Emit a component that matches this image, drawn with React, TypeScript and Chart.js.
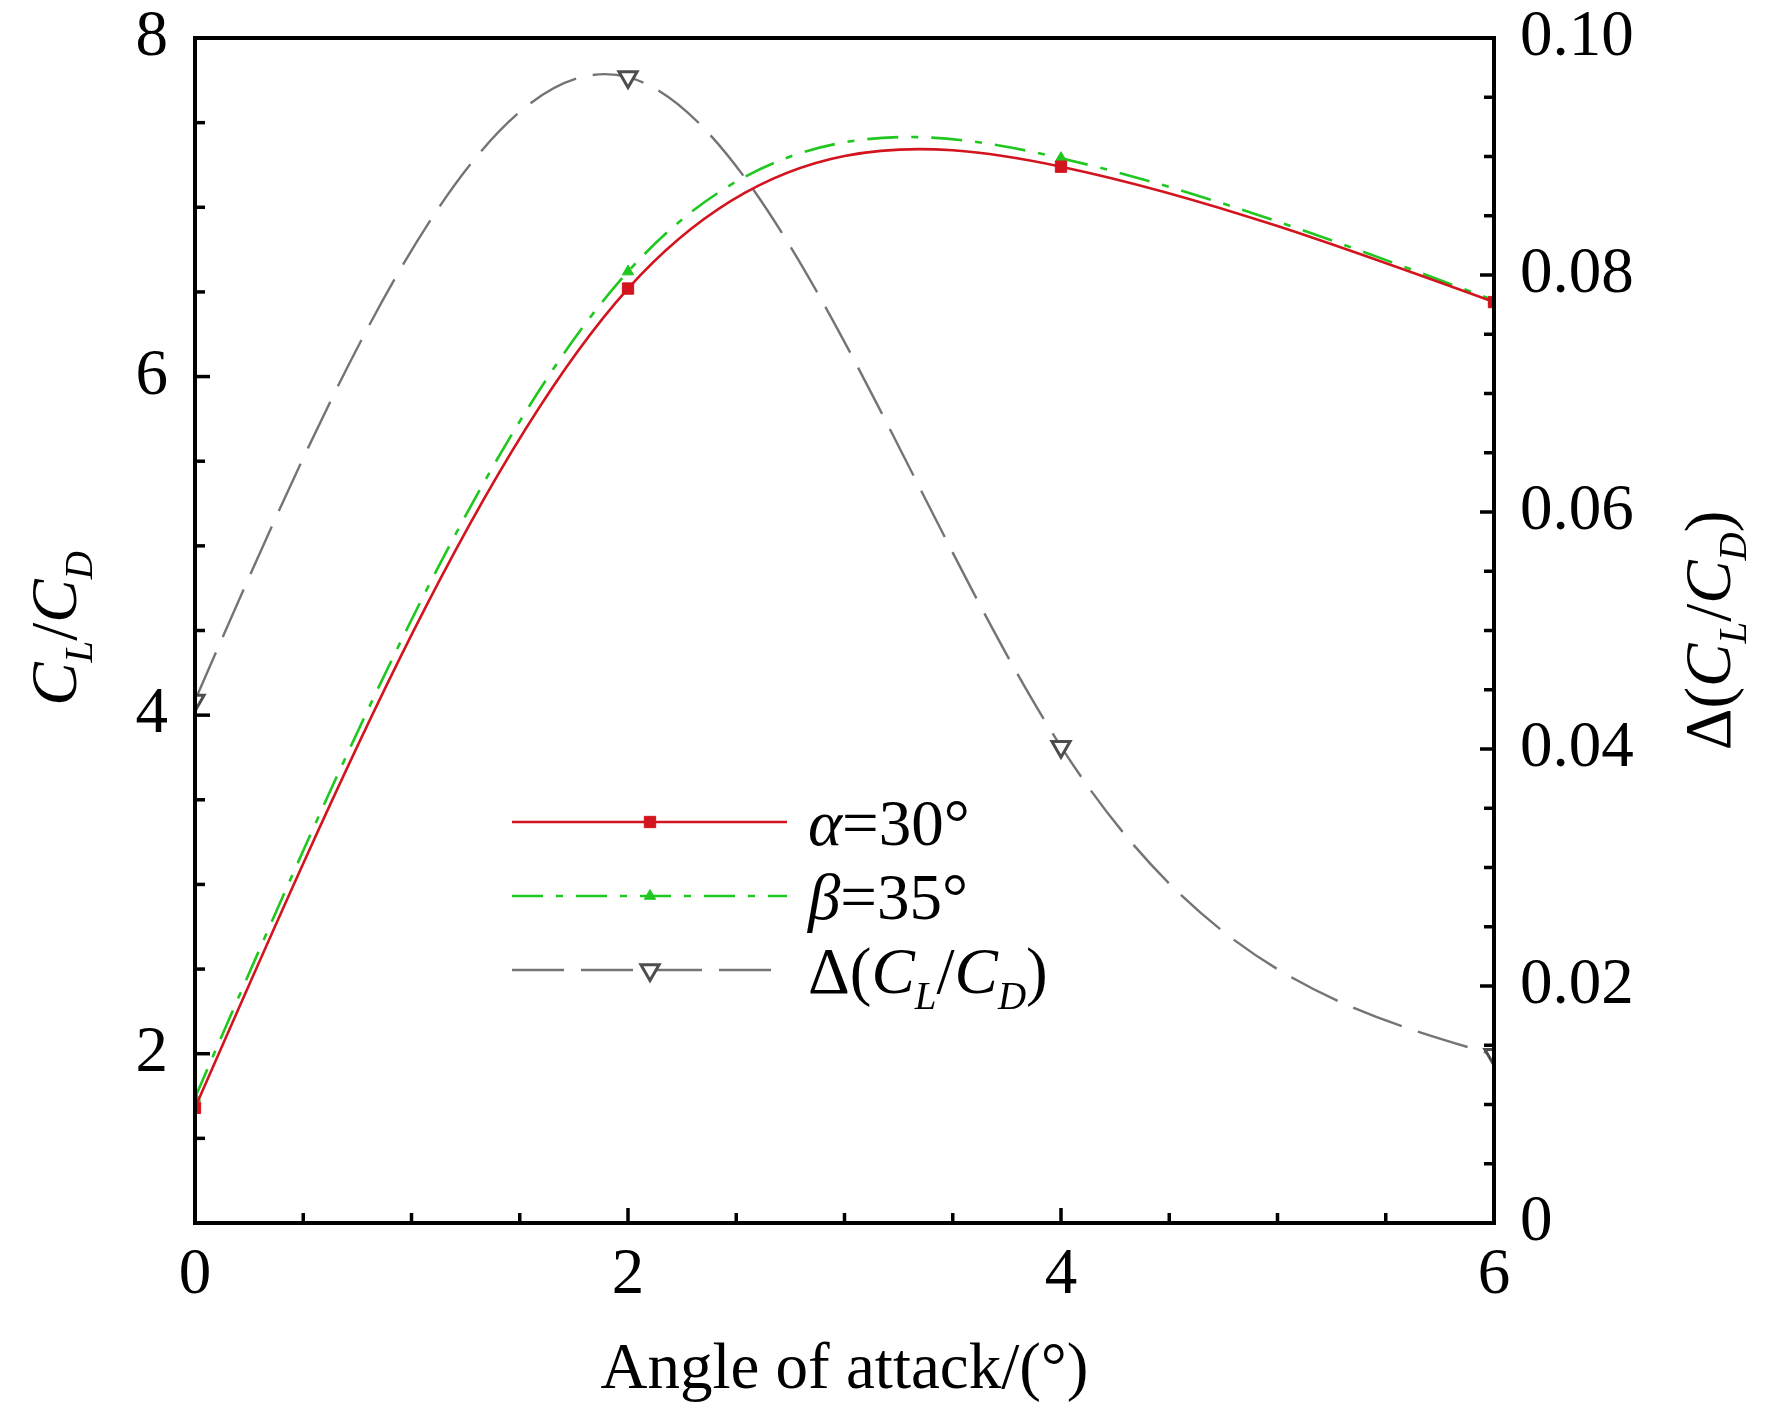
import { useEffect, useRef } from 'react';
import { Chart, registerables } from 'chart.js';
import { drawPoint } from 'chart.js/helpers';

Chart.register(...registerables);

const SERIF = "'Liberation Serif', 'Times New Roman', serif";
const FONT_SIZE = 65;

// angle of attack (deg) and the three curves
const angles = [0, 2, 4, 6];
const ratioAlpha30 = [1.68, 6.52, 7.24, 6.44];
const ratioBeta35 = [1.74, 6.62, 7.29, 6.45];
const ratioDelta = [0.0441, 0.0967, 0.0402, 0.0142];

// labelled (major) ticks; minor ticks come from stepSize
const xTickValues = [0, 2, 4, 6];
const xTickLabels = ['0', '2', '4', '6'];
const leftTickValues = [2, 4, 6, 8];
const leftTickLabels = ['2', '4', '6', '8'];
const rightTickValues = [0, 0.02, 0.04, 0.06, 0.08, 0.1];
const rightTickLabels = ['0', '0.02', '0.04', '0.06', '0.08', '0.10'];

const RED = '#d2141e';
const GREEN = '#1fc71f';
const GREY = '#747474';

type Run = { t: string; it?: boolean; sub?: boolean };

const alphaLabel: Run[] = [{ t: 'α', it: true }, { t: '=30°' }];
const betaLabel: Run[] = [{ t: 'β', it: true }, { t: '=35°' }];
const deltaLabel: Run[] = [
  { t: 'Δ(' },
  { t: 'C', it: true },
  { t: 'L', it: true, sub: true },
  { t: '/' },
  { t: 'C', it: true },
  { t: 'D', it: true, sub: true },
  { t: ')' },
];
const leftTitle: Run[] = [
  { t: 'C', it: true },
  { t: 'L', it: true, sub: true },
  { t: '/' },
  { t: 'C', it: true },
  { t: 'D', it: true, sub: true },
];

function labelFor(v: number, values: number[], labels: string[]) {
  const i = values.findIndex((t) => Math.abs(t - v) < 1e-9);
  return i < 0 ? '' : labels[i];
}

function isMajor(v: number, values: number[]) {
  return values.some((t) => Math.abs(t - v) < 1e-9);
}

function runFont(r: Run) {
  const size = r.sub ? FONT_SIZE * 0.6 : FONT_SIZE;
  return `${r.it ? 'italic ' : ''}${size}px ${SERIF}`;
}

function runsWidth(ctx: CanvasRenderingContext2D, runs: Run[]) {
  let w = 0;
  for (const r of runs) {
    ctx.font = runFont(r);
    w += ctx.measureText(r.t).width;
  }
  return w;
}

function drawRuns(ctx: CanvasRenderingContext2D, runs: Run[], x: number, y: number) {
  let cx = x;
  ctx.textAlign = 'left';
  ctx.textBaseline = 'alphabetic';
  for (const r of runs) {
    ctx.font = runFont(r);
    ctx.fillText(r.t, cx, y + (r.sub ? FONT_SIZE * 0.24 : 0));
    cx += ctx.measureText(r.t).width;
  }
}

// second derivatives of a natural cubic spline (the original plot's "spline" connection)
function splineSecondDerivs(xs: number[], ys: number[]) {
  const n = xs.length;
  const M = new Array(n).fill(0);
  if (n < 3) return M;
  const a: number[] = [];
  const b: number[] = [];
  const c: number[] = [];
  const d: number[] = [];
  for (let i = 1; i < n - 1; i++) {
    const h0 = xs[i] - xs[i - 1];
    const h1 = xs[i + 1] - xs[i];
    a.push(h0);
    b.push(2 * (h0 + h1));
    c.push(h1);
    d.push(6 * ((ys[i + 1] - ys[i]) / h1 - (ys[i] - ys[i - 1]) / h0));
  }
  const m = b.length;
  for (let i = 1; i < m; i++) {
    const w = a[i] / b[i - 1];
    b[i] -= w * c[i - 1];
    d[i] -= w * d[i - 1];
  }
  const sol = new Array(m);
  sol[m - 1] = d[m - 1] / b[m - 1];
  for (let i = m - 2; i >= 0; i--) sol[i] = (d[i] - c[i] * sol[i + 1]) / b[i];
  for (let i = 0; i < m; i++) M[i + 1] = sol[i];
  return M;
}

// replace Chart.js' tension handles by natural-spline handles, through the scales
const splinePlugin = {
  id: 'naturalSpline',
  beforeDatasetDraw(chart: Chart, args: any) {
    const meta = args.meta;
    const pts = meta.data as any[];
    const raw = chart.data.datasets[args.index].data as { x: number; y: number }[];
    if (!pts.length || pts.length !== raw.length) return;
    const xs = raw.map((p) => p.x);
    const ys = raw.map((p) => p.y);
    const M = splineSecondDerivs(xs, ys);
    const xS = meta.xScale;
    const yS = meta.yScale;
    for (let i = 0; i < xs.length - 1; i++) {
      const h = xs[i + 1] - xs[i];
      const s = (ys[i + 1] - ys[i]) / h;
      const m0 = s - (h * (2 * M[i] + M[i + 1])) / 6;
      const m1 = s + (h * (M[i] + 2 * M[i + 1])) / 6;
      pts[i].cp2x = xS.getPixelForValue(xs[i] + h / 3);
      pts[i].cp2y = yS.getPixelForValue(ys[i] + (m0 * h) / 3);
      pts[i + 1].cp1x = xS.getPixelForValue(xs[i + 1] - h / 3);
      pts[i + 1].cp1y = yS.getPixelForValue(ys[i + 1] - (m1 * h) / 3);
    }
    meta.dataset._pointsUpdated = true;
    meta.dataset._path = undefined;
  },
};

const framePlugin = {
  id: 'frame',
  afterDatasetsDraw(chart: Chart) {
    const { ctx, chartArea: a, scales } = chart;
    ctx.save();
    ctx.setLineDash([]);
    ctx.strokeStyle = '#000';
    ctx.lineWidth = 3.5;

    scales.x.ticks.forEach((t) => {
      const px = scales.x.getPixelForValue(t.value);
      const len = isMajor(t.value, xTickValues) ? 15 : 10;
      ctx.beginPath();
      ctx.moveTo(px, a.bottom);
      ctx.lineTo(px, a.bottom - len);
      ctx.stroke();
    });
    scales.y.ticks.forEach((t) => {
      const py = scales.y.getPixelForValue(t.value);
      const len = isMajor(t.value, leftTickValues) ? 15 : 10;
      ctx.beginPath();
      ctx.moveTo(a.left, py);
      ctx.lineTo(a.left + len, py);
      ctx.stroke();
    });
    scales.y1.ticks.forEach((t) => {
      const py = scales.y1.getPixelForValue(t.value);
      const len = isMajor(t.value, rightTickValues) ? 14 : 10;
      ctx.beginPath();
      ctx.moveTo(a.right, py);
      ctx.lineTo(a.right - len, py);
      ctx.stroke();
    });

    ctx.lineWidth = 4;
    ctx.strokeRect(a.left, a.top, a.right - a.left, a.bottom - a.top);
    ctx.restore();
  },
};

const textPlugin = {
  id: 'texts',
  afterDraw(chart: Chart) {
    const { ctx } = chart;
    ctx.save();
    ctx.fillStyle = '#000';

    // legend samples, styled from the datasets
    const rows = [822, 896, 970];
    const labels = [alphaLabel, betaLabel, deltaLabel];
    chart.data.datasets.forEach((ds: any, i) => {
      const y = rows[i];
      ctx.save();
      ctx.strokeStyle = ds.borderColor;
      ctx.lineWidth = ds.borderWidth;
      ctx.setLineDash(ds.borderDash || []);
      ctx.beginPath();
      ctx.moveTo(512, y);
      ctx.lineTo(787, y);
      ctx.stroke();
      ctx.setLineDash([]);
      ctx.fillStyle = ds.pointBackgroundColor;
      ctx.strokeStyle = ds.pointBorderColor;
      ctx.lineWidth = ds.pointBorderWidth;
      drawPoint(
        ctx,
        {
          pointStyle: ds.pointStyle,
          rotation: ds.pointRotation || 0,
          radius: ds.pointRadius,
          borderWidth: ds.pointBorderWidth,
        },
        650,
        y
      );
      ctx.restore();
      drawRuns(ctx, labels[i], 808, y + 23);
    });

    // x title
    ctx.font = `${FONT_SIZE}px ${SERIF}`;
    ctx.textAlign = 'center';
    ctx.textBaseline = 'alphabetic';
    const a = chart.chartArea;
    ctx.fillText('Angle of attack/(°)', (a.left + a.right) / 2, 1388);

    // left title
    ctx.save();
    const lw = runsWidth(ctx, leftTitle);
    ctx.translate(76, (a.top + a.bottom) / 2 + lw / 2 - 2);
    ctx.rotate(-Math.PI / 2);
    drawRuns(ctx, leftTitle, 0, 0);
    ctx.restore();

    // right title
    ctx.save();
    const rw = runsWidth(ctx, deltaLabel);
    ctx.translate(1730, (a.top + a.bottom) / 2 + rw / 2);
    ctx.rotate(-Math.PI / 2);
    drawRuns(ctx, deltaLabel, 0, 0);
    ctx.restore();

    ctx.restore();
  },
};

const tickFont = { family: SERIF, size: FONT_SIZE, lineHeight: 1 };

export default function App() {
  const canvasRef = useRef<HTMLCanvasElement>(null);
  const chartRef = useRef<Chart | null>(null);

  useEffect(() => {
    document.body.style.margin = '0';
    if (!canvasRef.current) return;
    if (chartRef.current) chartRef.current.destroy();

    const toPoints = (ys: number[]) => angles.map((x, i) => ({ x, y: ys[i] }));

    chartRef.current = new Chart(canvasRef.current, {
      type: 'line',
      data: {
        datasets: [
          {
            label: 'α=30°',
            data: toPoints(ratioAlpha30),
            yAxisID: 'y',
            borderColor: RED,
            borderWidth: 2.6,
            tension: 0.4,
            pointStyle: 'rect',
            pointRadius: 8,
            pointBackgroundColor: RED,
            pointBorderColor: RED,
            pointBorderWidth: 1,
            clip: 0,
          },
          {
            label: 'β=35°',
            data: toPoints(ratioBeta35),
            yAxisID: 'y',
            borderColor: GREEN,
            borderWidth: 2.6,
            borderDash: [31, 13, 7, 13],
            tension: 0.4,
            pointStyle: 'triangle',
            pointRadius: 6.5,
            pointBackgroundColor: GREEN,
            pointBorderColor: GREEN,
            pointBorderWidth: 1,
            clip: 0,
          },
          {
            label: 'Δ(CL/CD)',
            data: toPoints(ratioDelta),
            yAxisID: 'y1',
            borderColor: GREY,
            borderWidth: 2.4,
            borderDash: [52, 17],
            tension: 0.4,
            pointStyle: 'triangle',
            pointRotation: 180,
            pointRadius: 10.5,
            pointBackgroundColor: '#ffffff',
            pointBorderColor: '#4d4d4d',
            pointBorderWidth: 3,
            clip: 0,
          },
        ] as any,
      },
      options: {
        animation: false,
        responsive: false,
        events: [],
        layout: { padding: { top: 38, left: 0, right: 0, bottom: 0 } },
        plugins: {
          legend: { display: false },
          tooltip: { enabled: false },
        },
        scales: {
          x: {
            type: 'linear',
            min: 0,
            max: 6,
            grid: { display: false, drawTicks: false },
            border: { display: false },
            ticks: {
              stepSize: 0.5,
              autoSkip: false,
              maxRotation: 0,
              padding: 20,
              color: '#000',
              font: tickFont,
              callback: (v) => labelFor(Number(v), xTickValues, xTickLabels),
            },
            afterFit: (s: any) => {
              s.height = 185;
              s.paddingLeft = 0;
              s.paddingRight = 0;
            },
          },
          y: {
            type: 'linear',
            position: 'left',
            min: 1,
            max: 8,
            grid: { display: false, drawTicks: false },
            border: { display: false },
            ticks: {
              stepSize: 0.5,
              autoSkip: false,
              padding: 27,
              color: '#000',
              font: tickFont,
              callback: (v) => labelFor(Number(v), leftTickValues, leftTickLabels),
            },
            afterFit: (s: any) => {
              s.width = 195;
              s.paddingTop = 0;
              s.paddingBottom = 0;
            },
          },
          y1: {
            type: 'linear',
            position: 'right',
            min: 0,
            max: 0.1,
            grid: { display: false, drawTicks: false },
            border: { display: false },
            ticks: {
              stepSize: 0.005,
              autoSkip: false,
              padding: 26,
              color: '#000',
              font: tickFont,
              callback: (v) => labelFor(Number(v), rightTickValues, rightTickLabels),
            },
            afterFit: (s: any) => {
              s.width = 278;
              s.paddingTop = 0;
              s.paddingBottom = 0;
            },
          },
        },
      },
      plugins: [splinePlugin, framePlugin, textPlugin],
    });

    return () => {
      if (chartRef.current) {
        chartRef.current.destroy();
        chartRef.current = null;
      }
    };
  }, []);

  return (
    <div style={{ width: 1772, height: 1408, background: '#fff' }}>
      <canvas ref={canvasRef} width={1772} height={1408} style={{ display: 'block' }} />
    </div>
  );
}
